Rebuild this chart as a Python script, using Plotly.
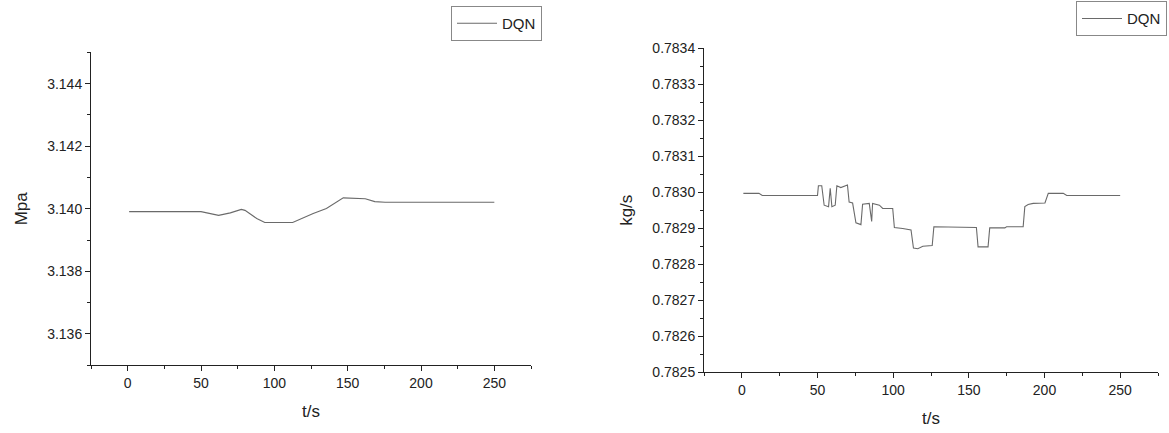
import plotly.graph_objects as go

# Left chart: pressure (Mpa) vs time
t_pressure = [1, 50, 62, 70, 77.5, 80, 88, 93.5, 112.5, 126.5, 135.5, 147, 162, 168.5, 175.5, 250]
pressure = [3.13991, 3.13991, 3.13979, 3.13987, 3.13998, 3.13995, 3.13969, 3.13956, 3.13956,
            3.13985, 3.14001, 3.14035, 3.14032, 3.14023, 3.14021, 3.14021]

# Right chart: mass flow (kg/s) vs time
t_flow = [1, 11.3, 13.5, 50, 50.6, 52.8, 54.4, 57.3, 58.4, 59.5, 61.7, 62.8, 65.4, 68.7, 69.8,
          70.9, 73.2, 75.4, 78.7, 79.8, 84.2, 85.8, 86.4, 90.9, 93.1, 99.7, 100.8, 106.3, 111.8,
          113.4, 116.3, 119.6, 125.8, 126.9, 148.3, 151, 155, 156.1, 162.7, 163.8, 173.8, 174.9,
          185.9, 187, 189.2, 192.5, 200.3, 202.5, 212.4, 214.7, 250]
flow = [0.782997, 0.782997, 0.782991, 0.782991, 0.783018, 0.783018, 0.782964, 0.782960, 0.783011,
        0.782960, 0.782964, 0.783018, 0.783013, 0.783020, 0.783020, 0.782973, 0.782970, 0.782915,
        0.782910, 0.782967, 0.782969, 0.782919, 0.782969, 0.782964, 0.782955, 0.782955, 0.782902,
        0.782899, 0.782895, 0.782845, 0.782843, 0.782850, 0.782852, 0.782904, 0.782904, 0.782902,
        0.782902, 0.782848, 0.782848, 0.782901, 0.782901, 0.782904, 0.782904, 0.782960, 0.782966,
        0.782969, 0.782970, 0.782997, 0.782997, 0.782991, 0.782991]

series_name = "DQN"
x_title = "t/s"
y_title_left = "Mpa"
y_title_right = "kg/s"

W, H = 1169, 433
FONT = "Liberation Sans, Arial, sans-serif"
AX = "#222222"
LINE = "#6a6a6a"

fig = go.Figure()
fig.add_trace(go.Scatter(x=t_pressure, y=pressure, mode="lines", name=series_name,
                         line=dict(color=LINE, width=1.1), xaxis="x", yaxis="y", legend="legend"))
fig.add_trace(go.Scatter(x=t_flow, y=flow, mode="lines", name=series_name,
                         line=dict(color=LINE, width=1.1), xaxis="x2", yaxis="y2",
                         legend="legend2"))

common = dict(showline=True, linecolor=AX, linewidth=1, ticks="outside", ticklen=5, tickwidth=1,
              tickcolor=AX, showgrid=False, zeroline=False,
              tickfont=dict(family=FONT, size=14, color="#222"),
              title_font=dict(family=FONT, size=17, color="#222"))

def px_x(a, b):
    return [a / W, b / W]

def px_y(top, bottom):
    return [(H - bottom) / H, (H - top) / H]

legend_style = dict(xanchor="left", yanchor="top", bgcolor="white", bordercolor="#888",
                    borderwidth=1, font=dict(family=FONT, size=15, color="#222"), itemwidth=40)

fig.update_layout(
    width=W, height=H,
    margin=dict(l=0, r=0, t=0, b=0),
    paper_bgcolor="white", plot_bgcolor="white",
    font=dict(family=FONT, color="#222"),
    xaxis=dict(domain=px_x(91, 531), anchor="y", range=[-25, 275], tick0=0, dtick=50,
               minor=dict(ticks="outside", ticklen=3, dtick=25, tick0=0, tickcolor=AX),
               title=dict(text=x_title), **common),
    yaxis=dict(domain=px_y(46, 371), anchor="x", range=[3.135, 3.145], tick0=3.136, dtick=0.002,
               tickformat=".3f",
               minor=dict(ticks="outside", ticklen=3, dtick=0.001, tick0=3.135, tickcolor=AX),
               title=dict(text=y_title_left), **common),
    xaxis2=dict(domain=px_x(704, 1158), anchor="y2", range=[-25, 275], tick0=0, dtick=50,
                minor=dict(ticks="outside", ticklen=3, dtick=25, tick0=0, tickcolor=AX),
                title=dict(text=x_title), **common),
    yaxis2=dict(domain=px_y(42, 378), anchor="x2", range=[0.7825, 0.7834], tick0=0.7825,
                dtick=0.0001, tickformat=".4f",
                minor=dict(ticks="outside", ticklen=3, dtick=0.00005, tick0=0.7825, tickcolor=AX),
                title=dict(text=y_title_right), **common),
    legend=dict(x=451 / W, y=1 + 2 / H, **legend_style),
    legend2=dict(x=1076 / W, y=1 + 7 / H, **legend_style),
    showlegend=True,
)

fig.write_html("out.html")
